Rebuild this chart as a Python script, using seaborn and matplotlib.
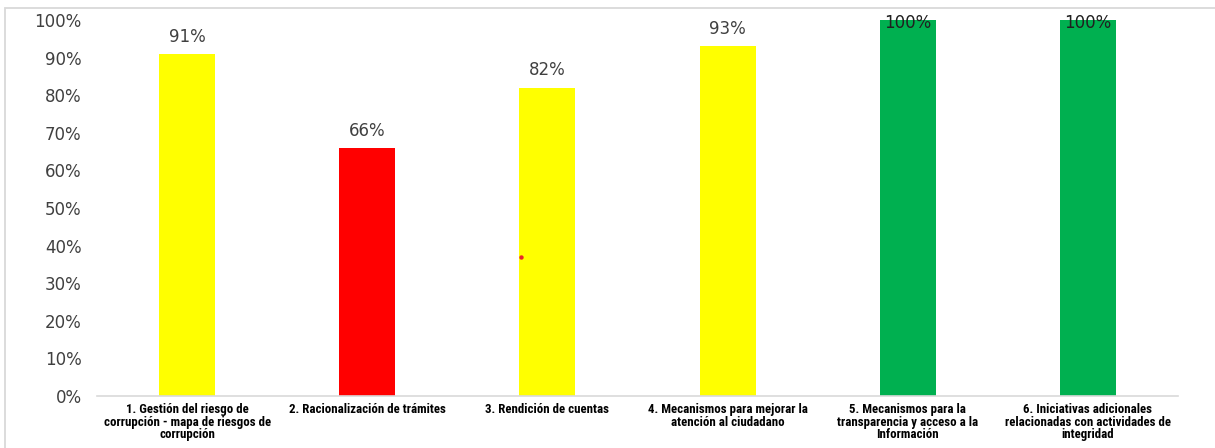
import matplotlib
matplotlib.use("Agg")
import matplotlib.pyplot as plt
from matplotlib.patches import Rectangle
from matplotlib.ticker import PercentFormatter
import seaborn as sns
import pandas as pd

# Plan components and their completion percentage
categories = [
    "1. Gestión del riesgo de\ncorrupción - mapa de riesgos de\ncorrupción",
    "2. Racionalización de trámites",
    "3. Rendición de cuentas",
    "4. Mecanismos para mejorar la\natención al ciudadano",
    "5. Mecanismos para la\ntransparencia y acceso a la\nInformación",
    "6. Iniciativas adicionales\nrelacionadas con actividades de\nintegridad",
]
values = [0.91, 0.66, 0.82, 0.93, 1.00, 1.00]
bar_colors = ["#FFFF00", "#FF0000", "#FFFF00", "#FFFF00", "#00B050", "#00B050"]
value_labels = ["91%", "66%", "82%", "93%", "100%", "100%"]

# Stray marker left on the chart
dot_x = [1.856]
dot_y = [0.37]

yticks = [0, 0.1, 0.2, 0.3, 0.4, 0.5, 0.6, 0.7, 0.8, 0.9, 1.0]

W, H = 1215, 448
fig = plt.figure(figsize=(W / 100, H / 100), dpi=100)
fig.patch.set_facecolor("white")

# Light chart-area border
fig.patches.append(Rectangle((5 / W, -0.1), 1.2, (H - 8) / H + 0.1,
                             transform=fig.transFigure, fill=False,
                             edgecolor="#d9d9d9", linewidth=1.3))

ax = fig.add_axes([97 / W, (H - 396) / H, (1178 - 97) / W, (396 - 20) / H])

df = pd.DataFrame({"cat": categories, "val": values})
sns.barplot(data=df, x="cat", y="val", hue="cat", palette=bar_colors,
            saturation=1, width=0.31, legend=False, ax=ax, edgecolor="none")

ax.scatter(dot_x, dot_y, s=10, color="#e8262a", zorder=5, linewidths=0)

ax.set_ylim(0, 1.0)
ax.set_xlim(-0.5, len(categories) - 0.5)
ax.set_yticks(yticks)
ax.yaxis.set_major_formatter(PercentFormatter(1.0, decimals=0))
ax.set_xlabel("")
ax.set_ylabel("")

for s in ["top", "right", "left"]:
    ax.spines[s].set_visible(False)
ax.spines["bottom"].set_color("#d9d9d9")
ax.spines["bottom"].set_linewidth(1.2)

ax.tick_params(axis="y", length=0, pad=11, labelsize=12, labelcolor="#404040")
ax.tick_params(axis="x", length=0, pad=5)
for lbl in ax.get_xticklabels():
    lbl.set_fontfamily(["Roboto Condensed", "PT Sans Narrow", "DejaVu Sans"])
    lbl.set_fontweight("bold")
    lbl.set_fontsize(9.3)
    lbl.set_linespacing(0.97)
    lbl.set_color("black")
    lbl.set_horizontalalignment("center")
    lbl.set_verticalalignment("top")

# Value labels above bars, kept inside the plot area at the top
for i, (v, t) in enumerate(zip(values, value_labels)):
    if v >= 0.97:
        ax.text(i, 0.992, t, ha="center", va="center", fontsize=12,
                color="#202020", zorder=6)
    else:
        ax.annotate(t, (i, v), xytext=(0, 6), textcoords="offset points",
                    ha="center", va="bottom", fontsize=12, color="#404040")

fig.savefig("out.png", dpi=100, facecolor="white")
